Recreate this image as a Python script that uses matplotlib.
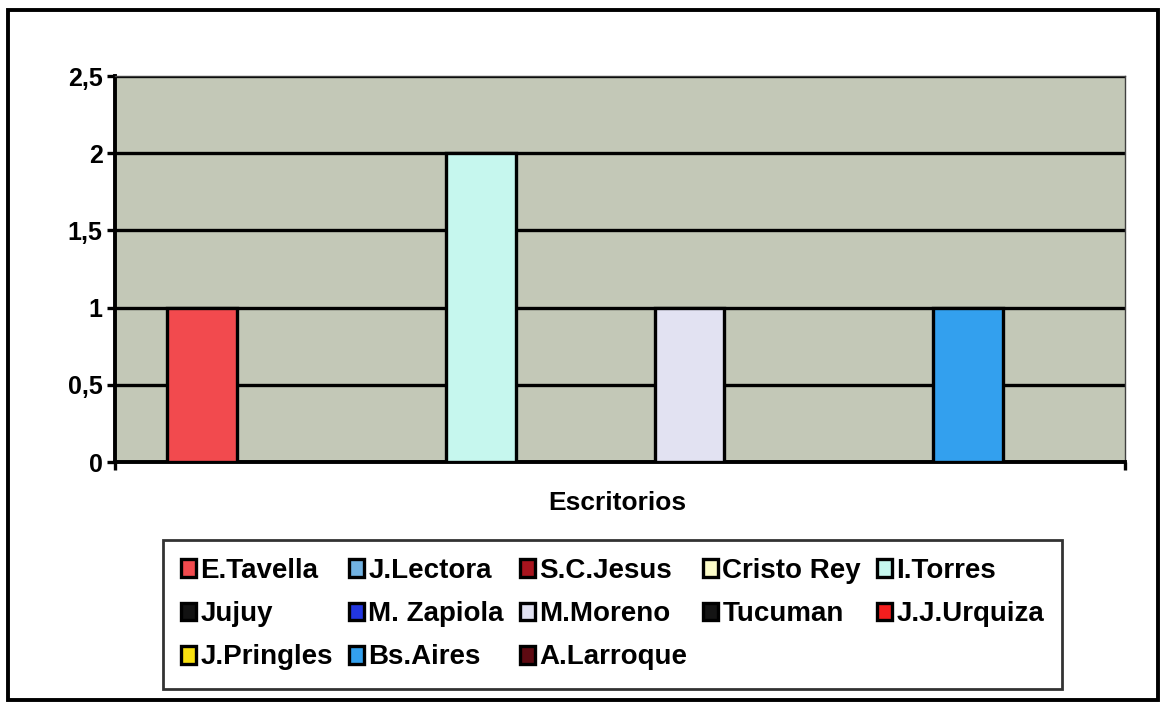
import numpy as np
import matplotlib
matplotlib.use("Agg")
import matplotlib.pyplot as plt
from matplotlib.patches import Rectangle

# data: one category, 13 series (escritorios)
categoria = "Escritorios"
series = ["E.Tavella", "J.Lectora", "S.C.Jesus", "Cristo Rey", "I.Torres",
          "Jujuy", "M. Zapiola", "M.Moreno", "Tucuman", "J.J.Urquiza",
          "J.Pringles", "Bs.Aires", "A.Larroque"]
valores = [1, 0, 0, 0, 2, 0, 0, 1, 0, 0, 0, 1, 0]
colores = ["#F24A4E", "#72B2E2", "#A8141E", "#FBFBC8", "#C6F7EE",
           "#121212", "#2236E0", "#E2E2F2", "#141414", "#F41E1E",
           "#F8E010", "#33A0EE", "#5E0A12"]
yticks = [0, 0.5, 1, 1.5, 2, 2.5]
ytick_labels = ["0", "0,5", "1", "1,5", "2", "2,5"]

plt.rcParams['font.family'] = ['Liberation Sans', 'DejaVu Sans']
plt.rcParams['font.weight'] = 'bold'

fig = plt.figure(figsize=(11.66, 7.15), dpi=100)
W, H = 1166.0, 715.0
left, right, top, bottom = 115, 1125, 76, 462
ax = fig.add_axes([left / W, 1 - bottom / H, (right - left) / W, (bottom - top) / H])
ax.set_facecolor("#C3C8B7")

n = len(series)
w = 1.0 / (n + 1.5)  # excel gap width 150%
handles = []
for i in range(n):
    b = ax.bar((i - (n - 1) / 2) * w, valores[i], width=w, color=colores[i],
               edgecolor="black", linewidth=2.4, zorder=3, label=series[i])
    handles.append(b)

ax.set_xlim(-0.5, 0.5)
ax.set_ylim(0, 2.5)
ax.set_yticks(yticks)
ax.set_yticklabels(ytick_labels, fontsize=18, fontweight='bold')
ax.set_xticks([-0.5, 0.5])
ax.set_xticklabels(["", ""])
ax.tick_params(axis='both', direction='out', length=6, width=2.4, color='black', pad=3)

ax.yaxis.grid(True, color='black', linewidth=2.4)
ax.set_axisbelow(True)
for s in ['left', 'bottom']:
    ax.spines[s].set_linewidth(2.8)
    ax.spines[s].set_color('black')
for s in ['top', 'right']:
    ax.spines[s].set_linewidth(1)
    ax.spines[s].set_color('#404040')

ax.set_xlabel(categoria, fontsize=19, fontweight='bold')
ax.xaxis.set_label_coords(0.497, -0.075)

# legend filled row by row like excel
orden = [0, 5, 10, 1, 6, 11, 2, 7, 12, 3, 8, 4, 9]
leg = fig.legend([handles[k] for k in orden], [series[k] for k in orden],
                 loc='upper left',
                 bbox_to_anchor=(163 / W, 1 - 688 / H, 899 / W, 148 / H),
                 mode='expand', ncol=5, frameon=True, borderaxespad=0,
                 fancybox=False, edgecolor='black', borderpad=0.65,
                 handlelength=0.55, handleheight=0.6, handletextpad=0.15,
                 labelspacing=0.62, columnspacing=0.6,
                 prop={'weight': 'bold', 'size': 20})
leg.get_frame().set_linewidth(2)

# outer frame of the chart
fig.patches.append(Rectangle((8 / W, 1 - 700 / H), 1150 / W, 690 / H,
                             transform=fig.transFigure, fill=False,
                             edgecolor='black', linewidth=2.8))

fig.savefig("out.png", dpi=100)
